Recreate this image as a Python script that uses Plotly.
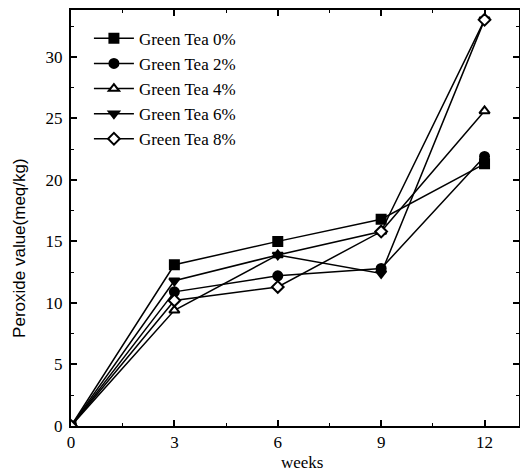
import plotly.graph_objects as go

weeks = [0, 3, 6, 9, 12]
gt0 = [0, 13.1, 15.0, 16.8, 21.3]
gt2 = [0, 10.9, 12.2, 12.8, 21.9]
gt4 = [0, 9.4, 13.9, 15.8, 25.6]
gt6 = [0, 11.8, 13.9, 12.4, 33.0]
gt8 = [0, 10.2, 11.3, 15.8, 33.0]
names = ["Green Tea 0%", "Green Tea 2%", "Green Tea 4%", "Green Tea 6%", "Green Tea 8%"]
series = [gt0, gt2, gt4, gt6, gt8]
symbols = ["square", "circle", "triangle-up", "triangle-down", "diamond"]
fills = ["black", "black", "white", "black", "white"]

fig = go.Figure()
for nm, ys, sym, fc in zip(names, series, symbols, fills):
    fig.add_trace(go.Scatter(
        x=weeks, y=ys, name=nm, mode="lines+markers",
        line=dict(color="black", width=1.5),
        marker=dict(symbol=sym, size=9, color=fc, line=dict(color="black", width=2)),
    ))

axis_common = dict(
    showline=True, linecolor="black", linewidth=2, mirror="allticks",
    ticks="inside", ticklen=6, tickwidth=1.5, tickcolor="black",
    showgrid=False, zeroline=False, automargin=False,
    tickfont=dict(family="Liberation Serif", size=17, color="black"),
)

fig.update_xaxes(
    range=[0, 13], tickvals=[0, 3, 6, 9, 12],
    minor=dict(ticks="inside", ticklen=3, tickwidth=1.2, tickcolor="black", dtick=1.5, tick0=0),
    ticklabelstandoff=0,
    **axis_common,
)
fig.update_yaxes(
    range=[0, 33.8], tickvals=[0, 5, 10, 15, 20, 25, 30],
    minor=dict(ticks="inside", ticklen=3, tickwidth=1.2, tickcolor="black", dtick=2.5, tick0=0),
    ticklabelstandoff=3,
    **axis_common,
)

fig.add_annotation(text="weeks", xref="paper", yref="paper", x=0.516, y=-0.087,
                   showarrow=False, xanchor="center", yanchor="middle",
                   font=dict(family="Liberation Serif", size=17, color="black"))
fig.add_annotation(text="Peroxide value(meq/kg)", xref="paper", yref="paper", x=-0.114, y=0.428,
                   showarrow=False, xanchor="center", yanchor="middle", textangle=-90,
                   font=dict(family="Liberation Sans", size=17, color="black"))

# page body has an 8px default margin; figure size compensates for it
fig.update_layout(
    width=520, height=467,
    margin=dict(l=63, r=9, t=2, b=49),
    plot_bgcolor="white", paper_bgcolor="white",
    showlegend=True,
    legend=dict(x=0.04, y=0.974, xanchor="left", yanchor="top",
                bgcolor="rgba(0,0,0,0)", borderwidth=0,
                font=dict(family="Liberation Serif", size=17, color="black"),
                tracegroupgap=0, itemwidth=40),
)

fig.write_html("out.html")
